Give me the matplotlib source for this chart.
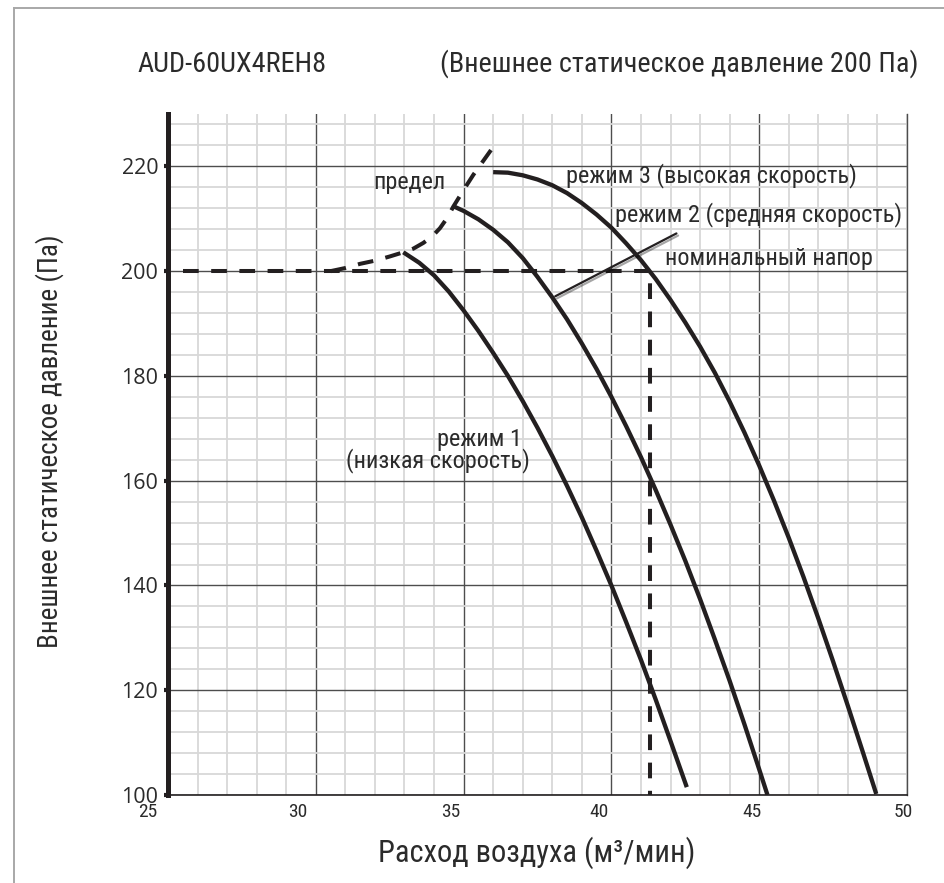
import matplotlib
matplotlib.use("Agg")
import matplotlib.pyplot as plt
import matplotlib.patheffects as pe
from matplotlib import font_manager
from matplotlib.lines import Line2D
from matplotlib.ticker import MultipleLocator
from matplotlib.transforms import ScaledTranslation

# fan curves: air flow (m3/min) vs external static pressure (Pa)
mode1_flow = [32.96, 33.5, 34.0, 34.5, 35.0, 35.5, 36.0, 36.5, 37.0, 37.5, 38.0,
              38.5, 39.0, 39.5, 40.0, 40.5, 41.0, 41.5, 42.0, 42.55]
mode1_pressure = [203.6, 201.6, 199.2, 196.1, 192.5, 188.6, 184.4, 180.0, 175.2, 170.1, 164.7,
                  159.0, 153.0, 146.6, 140.0, 133.0, 125.8, 118.2, 110.3, 101.5]

mode2_flow = [34.65, 35.0, 35.5, 36.0, 36.5, 37.0, 37.5, 38.0, 38.5, 39.0, 39.5, 40.0,
              40.5, 41.0, 41.5, 42.0, 42.5, 43.0, 43.5, 44.0, 44.5, 45.0, 45.28]
mode2_pressure = [212.4, 211.5, 209.9, 207.9, 205.5, 202.5, 198.9, 195.0, 190.8, 186.2, 181.3, 176.0,
                  170.4, 164.5, 158.2, 151.6, 144.7, 137.4, 129.7, 121.8, 113.5, 104.9, 100.0]

mode3_flow = [36.0, 36.5, 37.0, 37.5, 38.0, 38.5, 39.0, 39.5, 40.0, 40.5, 41.0, 41.5, 42.0,
              42.5, 43.0, 43.5, 44.0, 44.5, 45.0, 45.5, 46.0, 46.5, 47.0, 47.5, 48.0, 48.5, 48.96]
mode3_pressure = [218.9, 218.8, 218.3, 217.5, 216.4, 214.9, 213.0, 210.8, 208.3, 205.3, 202.1, 198.5, 194.5,
                  190.2, 185.6, 180.6, 175.1, 169.2, 162.9, 156.2, 149.1, 141.6, 133.7, 125.5, 117.0, 108.3, 100.2]

# operating limit
limit_flow = [30.5, 31.0, 31.5, 32.0, 32.5, 32.96, 33.3, 33.64, 33.95, 34.2, 34.45, 34.65, 35.0, 35.33, 35.95]
limit_pressure = [200.0, 200.6, 201.4, 202.0, 202.8, 203.6, 204.3, 205.4, 206.7, 208.2, 210.2, 212.3, 215.5, 218.4, 223.3]

# rated point
nominal_flow = 41.3
nominal_pressure = 200
nominal_start_flow = 25.5

x_ticks = [25, 30, 35, 40, 45, 50]
y_ticks = [100, 120, 140, 160, 180, 200, 220]
x_tick_shift_px = [-20, -18, -13, -12, -7, -4]

leader_from = (38.1, 195.2)
leader_to = (42.2, 207.2)


def pick_font(names):
    have = {f.name for f in font_manager.fontManager.ttflist}
    for n in names:
        if n in have:
            return n
    return "DejaVu Sans"


narrow = pick_font(["Liberation Sans Narrow", "Roboto Condensed", "Liberation Sans"])
sans = pick_font(["Open Sans", "Noto Sans", "DejaVu Sans"])
ink = "#231f20"
text_col = "#2b2b2b"

fig = plt.figure(figsize=(9.44, 8.83), dpi=100)
ax = fig.add_axes([168 / 944, 1 - 795 / 883, (907 - 168) / 944, (795 - 114) / 883])

ax.set_xlim(25, 50)
ax.set_ylim(100, 230)
ax.xaxis.set_major_locator(MultipleLocator(5))
ax.xaxis.set_minor_locator(MultipleLocator(1))
ax.yaxis.set_major_locator(MultipleLocator(20))
ax.yaxis.set_minor_locator(MultipleLocator(4))
ax.grid(which="minor", color="#d8d8d8", lw=1.3, zorder=0)
ax.grid(which="major", color="#4d4d4d", lw=1.0, zorder=0)
ax.set_axisbelow(True)

ax.spines["top"].set_visible(False)
ax.spines["left"].set_linewidth(3.6)
ax.spines["left"].set_color(ink)
ax.spines["bottom"].set_linewidth(1.2)
ax.spines["bottom"].set_color(ink)
ax.spines["right"].set_linewidth(1.0)
ax.spines["right"].set_color("#4d4d4d")

ax.set_xticks(x_ticks)
ax.set_yticks(y_ticks)
ax.tick_params(axis="x", which="both", length=0, pad=6, labelsize=14, labelcolor=text_col)
ax.tick_params(axis="y", which="major", length=3, width=3, color=ink, pad=4,
               labelsize=15.5, labelcolor=text_col)
ax.tick_params(axis="y", which="minor", length=0)
for lab in ax.get_xticklabels():
    lab.set_fontfamily(narrow)
for lab in ax.get_yticklabels():
    lab.set_fontfamily(sans)
for lab, dx in zip(ax.get_xticklabels(), x_tick_shift_px):
    lab.set_transform(lab.get_transform() + ScaledTranslation(dx / 100, 0, fig.dpi_scale_trans))

# curves
for fx, fy in [(mode1_flow, mode1_pressure), (mode2_flow, mode2_pressure), (mode3_flow, mode3_pressure)]:
    ax.plot(fx, fy, color=ink, lw=3.1, solid_capstyle="butt", solid_joinstyle="round", zorder=4)

dash = dict(color=ink, lw=2.9, dashes=(3.9, 3.1), zorder=5)
ax.plot(limit_flow, limit_pressure, **dash)
ax.plot([nominal_start_flow, nominal_flow, nominal_flow],
        [nominal_pressure, nominal_pressure, 100], **dash)

# leader for mode 2 label
ax.annotate("", xy=leader_from, xytext=leader_to,
            arrowprops=dict(arrowstyle="-", lw=1.6, color=ink, shrinkA=0, shrinkB=0,
                            path_effects=[pe.SimpleLineShadow(offset=(1.2, -1.5), alpha=0.35),
                                          pe.Normal()]),
            zorder=6)

lab = dict(family=narrow, fontsize=17.5, color=text_col, va="baseline", zorder=7)
ax.text(31.95, 215.6, "предел", **lab)
ax.text(38.47, 217.0, "режим 3 (высокая скорость)", **lab)
ax.text(40.13, 209.5, "режим 2 (средняя скорость)", **lab)
ax.text(41.82, 201.1, "номинальный напор", **lab)
ax.text(34.09, 166.7, "режим 1", **lab)
ax.text(31.02, 162.5, "(низкая скорость)", **lab)

# titles and axis labels
fig.text(137 / 944, 1 - 72 / 883, "AUD-60UX4REH8", family=narrow, fontsize=20.3,
         color=text_col, va="baseline")
fig.text(440 / 944, 1 - 72 / 883, "(Внешнее статическое давление 200 Па)", family=narrow,
         fontsize=20.3, color=text_col, va="baseline")
fig.text(537 / 944, 1 - 862 / 883, "Расход воздуха (м³/мин)", family=narrow, fontsize=22,
         color=text_col, ha="center", va="baseline")
fig.text(50 / 944, 1 - 441 / 883, "Внешнее статическое давление (Па)", family=narrow,
         fontsize=19.5, color=text_col, ha="center", va="center", rotation=90)

# page frame
fig.add_artist(Line2D([14 / 944, 1.0], [1 - 8 / 883, 1 - 8 / 883], color="#a8a8a8", lw=1.4))
fig.add_artist(Line2D([14 / 944, 14 / 944], [0.0, 1 - 8 / 883], color="#a8a8a8", lw=1.4))

fig.savefig("out.png", dpi=100)
